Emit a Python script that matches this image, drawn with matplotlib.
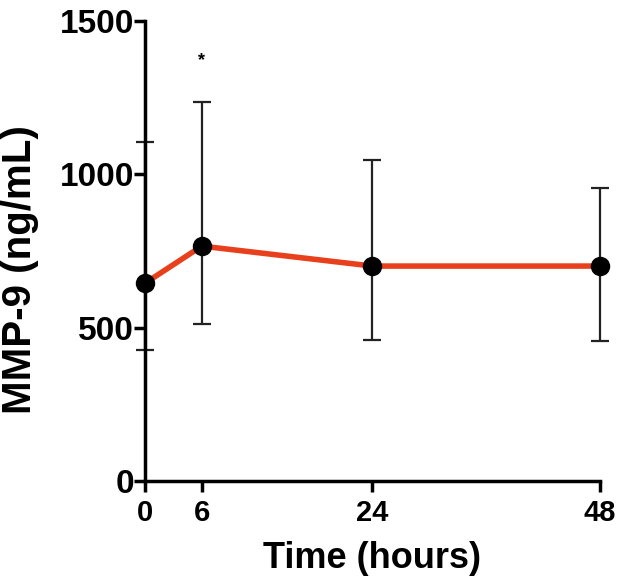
import numpy as np
import matplotlib.pyplot as plt

# MMP-9 over time
hours = [0, 6, 24, 48]
mmp9 = [645, 766, 701, 701]
err_low = [428, 512, 460, 457]
err_high = [1104, 1234, 1046, 954]
x_ticks = [0, 6, 24, 48]
y_ticks = [0, 500, 1000, 1500]

plt.rcParams['font.family'] = ['Liberation Sans', 'DejaVu Sans']
plt.rcParams['font.weight'] = 'bold'

fig = plt.figure(figsize=(6.3, 5.82), dpi=100)
ax = fig.add_axes([0.230, 0.173, 0.722, 0.7914])

y = np.array(mmp9)
yerr = np.array([y - np.array(err_low), np.array(err_high) - y])
ax.errorbar(hours, y, yerr=yerr, fmt="none", ecolor="#222222", elinewidth=1.6,
            capsize=6.5, capthick=1.6, clip_on=False, zorder=2)
ax.plot(hours, y, "-", color="#E8401C", linewidth=4, zorder=3, clip_on=False)
ax.plot(hours, y, "o", color="black", markersize=13, zorder=4, clip_on=False)

ax.text(6, 1370, "*", ha="center", va="center", fontsize=13)

ax.set_xlim(0, 48)
ax.set_ylim(0, 1500)
ax.set_xticks(x_ticks)
ax.set_yticks(y_ticks)
ax.tick_params(axis="both", direction="out", length=8, width=2.5)
ax.tick_params(axis="x", labelsize=21, pad=5)
ax.tick_params(axis="y", labelsize=24, pad=0)
for lab in ax.get_xticklabels() + ax.get_yticklabels():
    lab.set_fontweight("bold")

for s in ["top", "right"]:
    ax.spines[s].set_visible(False)
for s in ["left", "bottom"]:
    ax.spines[s].set_linewidth(2.5)

ax.set_xlabel("Time (hours)", fontsize=26, fontweight="bold", labelpad=10)
ax.set_ylabel("MMP-9 (ng/mL)", fontsize=29, fontweight="bold")
ax.yaxis.set_label_coords(-0.232, 0.46)

fig.savefig("out.png", dpi=100)
